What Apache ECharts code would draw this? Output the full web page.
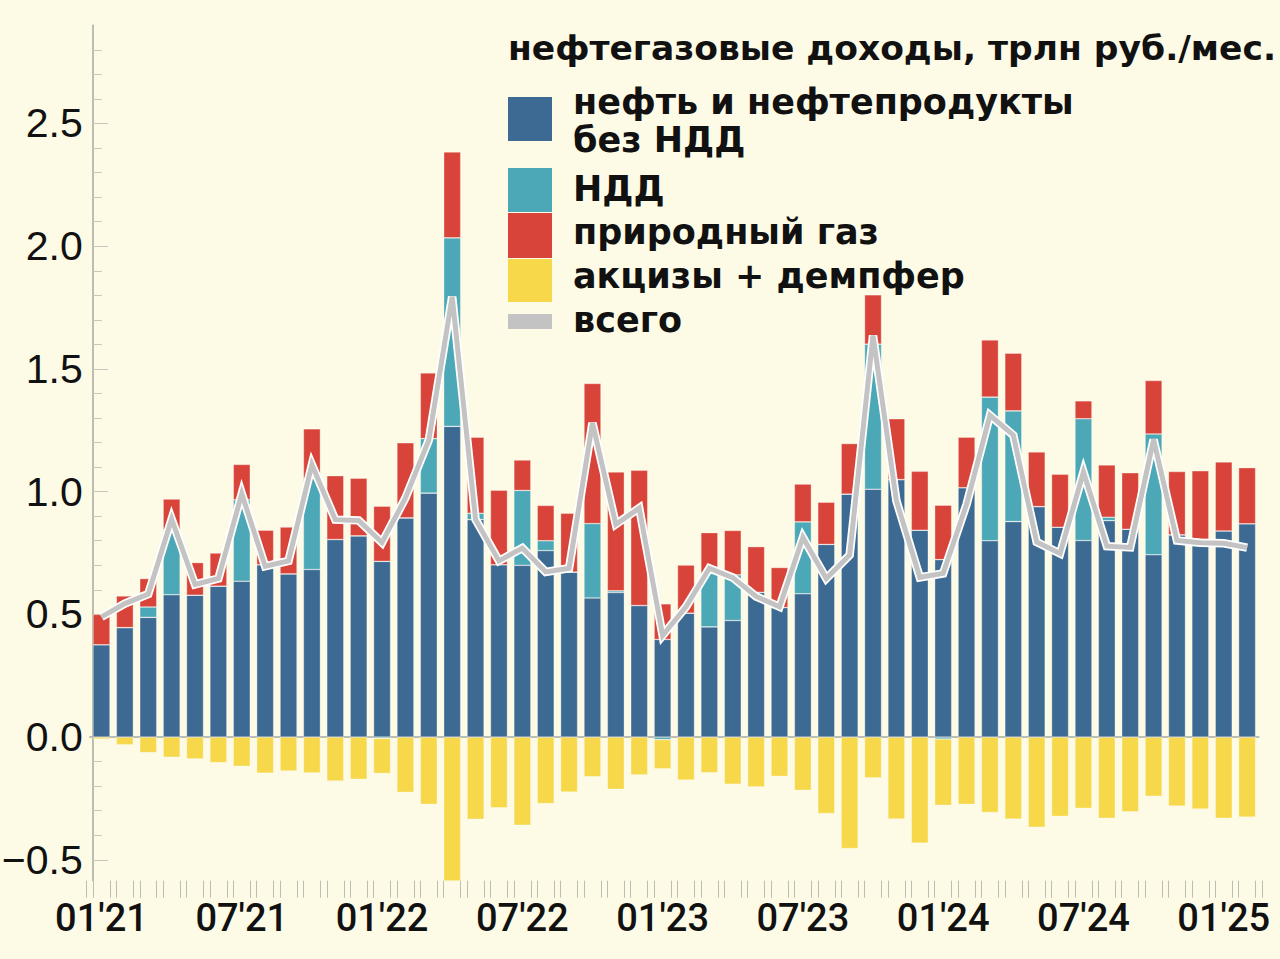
<!DOCTYPE html>
<html>
<head>
<meta charset="utf-8">
<script src="https://cdn.jsdelivr.net/npm/echarts@6/dist/echarts.min.js"></script>
<style>
html,body{margin:0;padding:0;background:#fdfbe6;}
#main{width:1280px;height:959px;}
</style>
</head>
<body>
<div id="main"></div>
<script>
// months 01'21 .. 02'25
var months = ["01'21","02'21","03'21","04'21","05'21","06'21","07'21","08'21","09'21","10'21","11'21","12'21",
    "01'22","02'22","03'22","04'22","05'22","06'22","07'22","08'22","09'22","10'22","11'22","12'22",
    "01'23","02'23","03'23","04'23","05'23","06'23","07'23","08'23","09'23","10'23","11'23","12'23",
    "01'24","02'24","03'24","04'24","05'24","06'24","07'24","08'24","09'24","10'24","11'24","12'24",
    "01'25","02'25"];

// нефть и нефтепродукты без НДД
var oilBase = [0.376,0.446,0.488,0.580,0.578,0.615,0.635,0.702,0.665,0.683,0.805,0.820,
    0.716,0.893,0.994,1.266,0.886,0.702,0.700,0.760,0.672,0.567,0.589,0.536,
    0.398,0.505,0.449,0.475,0.590,0.528,0.584,0.785,0.990,1.010,1.049,0.843,
    0.723,1.016,0.800,0.878,0.939,0.855,0.801,0.882,0.847,0.743,0.824,0.806,
    0.840,0.869];
// НДД
var ndd = [0,0,0.042,0.265,0,0,0.332,0,0,0.370,0,0,
    -0.005,0,0.222,0.768,0.026,0,0.305,0.040,0,0.303,0.007,0,
    -0.010,0,0.219,0.186,0,0,0.293,0,0,0.591,0,0,
    -0.008,0,0.585,0.451,0,0,0.496,0.014,0,0.492,0,0,
    0,0];
// природный газ
var gas = [0.124,0.129,0.116,0.125,0.133,0.135,0.144,0.141,0.191,0.203,0.260,0.235,
    0.225,0.306,0.268,0.350,0.310,0.304,0.124,0.144,0.240,0.571,0.484,0.551,
    0.145,0.196,0.165,0.181,0.186,0.163,0.154,0.172,0.206,0.201,0.248,0.240,
    0.222,0.206,0.233,0.235,0.223,0.216,0.073,0.213,0.230,0.218,0.258,0.279,
    0.281,0.229];
// акцизы + демпфер
var excise = [-0.008,-0.031,-0.063,-0.082,-0.089,-0.104,-0.119,-0.147,-0.138,-0.146,-0.179,-0.172,
    -0.143,-0.225,-0.274,-0.590,-0.335,-0.288,-0.359,-0.271,-0.224,-0.161,-0.213,-0.154,
    -0.119,-0.175,-0.145,-0.192,-0.203,-0.160,-0.217,-0.311,-0.454,-0.166,-0.334,-0.432,
    -0.270,-0.274,-0.307,-0.334,-0.367,-0.323,-0.290,-0.331,-0.304,-0.241,-0.281,-0.293,
    -0.331,-0.326];
// всего
var total = [0.490,0.544,0.583,0.888,0.622,0.646,0.992,0.696,0.718,1.110,0.886,0.883,
    0.793,0.974,1.210,1.794,0.887,0.718,0.770,0.673,0.688,1.280,0.867,0.933,
    0.414,0.531,0.688,0.650,0.573,0.531,0.814,0.646,0.742,1.636,0.963,0.651,
    0.667,0.948,1.311,1.230,0.795,0.748,1.080,0.778,0.773,1.212,0.801,0.792,
    0.790,0.772];

var yMajorTicks = [-0.5,0,0.5,1,1.5,2,2.5];
var yMinorTicks = [-0.5,-0.4,-0.3,-0.2,-0.1,0,0.1,0.2,0.3,0.4,0.5,0.6,0.7,0.8,0.9,1,1.1,1.2,1.3,1.4,
    1.5,1.6,1.7,1.8,1.9,2,2.1,2.2,2.3,2.4,2.5,2.6,2.7,2.8];

var titleText = 'нефтегазовые доходы, трлн руб./мес.';
var legendNames = ['нефть и нефтепродукты', 'НДД', 'природный газ', 'акцизы + демпфер', 'всего'];
var colors = ['#3d6a92', '#4ca8b7', '#d9443a', '#f6d84a', '#c3c3c3'];

var BG = '#fdfbe6';
var gridTop = 25.3, gridBottom = 78.3, gridLeft = 89.8, gridWidth = 1169;

var myChart = echarts.init(document.getElementById('main'), null, {renderer: 'svg'});

function barSeries(name, data, color){
    return {
        name: name,
        type: 'bar',
        stack: 'all',
        barWidth: 17,
        xAxisIndex: 0,
        yAxisIndex: 0,
        data: data,
        itemStyle: {color: color, borderColor: 'rgba(255,255,255,0.55)', borderWidth: 0.6}
    };
}

// тики оси x парами по краям столбиков
function tickGrid(dx){
    return {left: gridLeft + dx, width: gridWidth, top: gridTop, bottom: gridBottom, containLabel: false, outerBoundsMode: 'none'};
}
function tickAxis(idx){
    return {
        type: 'category', gridIndex: idx, data: months,
        axisLine: {show: false},
        axisTick: {show: true, interval: 0, length: 17, lineStyle: {color: '#bdbdb4', width: 1}},
        axisLabel: {show: false}, splitLine: {show: false}
    };
}

var legendY = [97, 168, 213, 259, 314];
var legendH = [44, 44, 45, 43, 15];
var textY = [102, 189, 232, 276, 320];
var graphics = [{
    type: 'text', left: 508, top: 30,
    style: {text: titleText, font: 'bold 34.5px "DejaVu Sans"', fill: '#111'}
}];
for (var i = 0; i < legendNames.length; i++) {
    graphics.push({type: 'rect', shape: {x: 508, y: legendY[i], width: 44, height: legendH[i]}, style: {fill: colors[i]}});
    graphics.push({type: 'text', x: 573, y: textY[i], style: {text: legendNames[i], font: 'bold 35px "DejaVu Sans"', fill: '#111', verticalAlign: 'middle'}});
}
graphics.push({type: 'text', x: 573, y: 140, style: {text: 'без НДД', font: 'bold 35px "DejaVu Sans"', fill: '#111', verticalAlign: 'middle'}});

var option = {
    backgroundColor: BG,
    animation: false,
    grid: [
        {left: gridLeft, width: gridWidth, top: gridTop, bottom: gridBottom, containLabel: false, outerBoundsMode: 'none'},
        tickGrid(-3.2),
        tickGrid(3.2)
    ],
    xAxis: [
        {
            type: 'category', gridIndex: 0, data: months,
            axisLine: {show: true, lineStyle: {color: '#a9a9a0', width: 1.5}},
            axisTick: {show: false},
            axisLabel: {interval: 5, fontSize: 38, fontFamily: 'Roboto', fontWeight: 500, color: '#111', margin: 18},
            splitLine: {show: false}
        },
        tickAxis(1),
        tickAxis(2)
    ],
    yAxis: [
        {
            type: 'value', gridIndex: 0, min: -0.585, max: 2.9, offset: -3, position: 'left',
            axisLine: {show: true, lineStyle: {color: '#a9a9a0', width: 1.5}},
            axisTick: {show: true, inside: true, length: 9, customValues: yMinorTicks, lineStyle: {color: '#c6c6bc'}},
            axisLabel: {
                customValues: yMajorTicks, fontSize: 41, fontFamily: 'Liberation Sans', color: '#111', margin: 10,
                formatter: function(v){
                    return v < 0 ? '\u2212' + Math.abs(v).toFixed(1) : v.toFixed(1);
                }
            },
            splitLine: {show: false}
        },
        {
            type: 'value', gridIndex: 0, min: -0.585, max: 2.9, offset: -3, position: 'left',
            axisLine: {show: false},
            axisTick: {show: true, inside: true, length: 15, customValues: yMajorTicks, lineStyle: {color: '#c6c6bc'}},
            axisLabel: {show: false},
            splitLine: {show: false}
        },
        {type: 'value', gridIndex: 1, show: false},
        {type: 'value', gridIndex: 2, show: false}
    ],
    graphic: graphics,
    series: [
        barSeries(legendNames[0], oilBase, colors[0]),
        barSeries(legendNames[1], ndd, colors[1]),
        barSeries(legendNames[2], gas, colors[2]),
        barSeries(legendNames[3], excise, colors[3]),
        {
            name: 'всего-обводка', type: 'line', data: total, symbol: 'none', z: 5,
            lineStyle: {color: '#ffffff', width: 8.5, join: 'miter', miterLimit: 10}
        },
        {
            name: legendNames[4], type: 'line', data: total, symbol: 'none', z: 6,
            lineStyle: {color: colors[4], width: 5, join: 'miter', miterLimit: 10}
        }
    ]
};
myChart.setOption(option);
</script>
</body>
</html>
